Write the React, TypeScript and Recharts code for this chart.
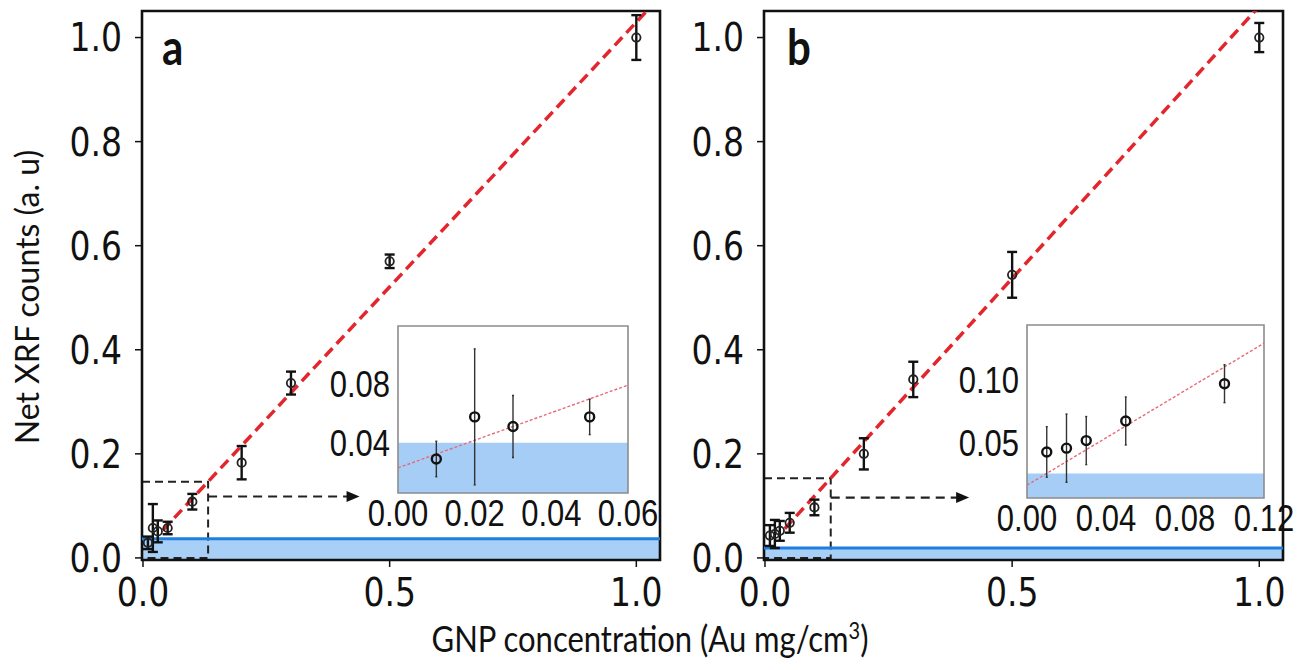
import React from 'react'
import {
  ScatterChart,
  Scatter,
  XAxis,
  YAxis,
  ErrorBar,
  ReferenceLine,
  ReferenceArea,
  ReferenceDot,
} from 'recharts'

// GNP concentration (Au mg/cm3), same for both panels
const concentrations = [0.01, 0.02, 0.03, 0.05, 0.1, 0.2, 0.3, 0.5, 1.0]

// panel a
const countsA = [0.029, 0.0575, 0.051, 0.0575, 0.108, 0.183, 0.336, 0.57, 1.0]
const errorsA = [0.012, 0.046, 0.021, 0.012, 0.015, 0.032, 0.022, 0.013, 0.043]
// panel b
const countsB = [0.043, 0.046, 0.052, 0.0675, 0.097, 0.2, 0.343, 0.544, 1.0]
const errorsB = [0.02, 0.027, 0.019, 0.019, 0.015, 0.03, 0.034, 0.044, 0.028]

// fitted lines (end points)
const fitMainA = [[0.04, 0.053], [1.03, 1.06]]
const fitMainB = [[0.04, 0.056], [1.0, 1.06]]
const fitInsetA = [[0, 0.023], [0.06, 0.079]]
const fitInsetB = [[0, 0.0167], [0.12, 0.129]]

// detection limit band
const lodMainA = 0.037
const lodInsetA = 0.04
const lodMainB = 0.019
const lodInsetB = 0.026

// zoom box corner and arrow (y, tip x)
const zoomBoxA = [0.132, 0.1466]
const zoomBoxB = [0.133, 0.153]
const arrowA = [0.118, 0.439]
const arrowB = [0.116, 0.413]

const mainXTicks = [0, 0.5, 1.0]
const mainYTicks = [0, 0.2, 0.4, 0.6, 0.8, 1.0]
const insetXTicksA = [0, 0.02, 0.04, 0.06]
const insetYTicksA = [0.04, 0.08]
const insetXTicksB = [0, 0.04, 0.08, 0.12]
const insetYTicksB = [0.05, 0.1]

const mainXDomain = [-0.002, 1.048]
const mainYDomain = [-0.004, 1.051]
const insetXDomainA = [0, 0.06]
const insetYDomainA = [0.006, 0.119]
const insetXDomainB = [0, 0.12]
const insetYDomainB = [0.0066, 0.1434]

const SY = 1.17 // figure is stretched vertically

const pointsA = concentrations.map((x, i) => ({ x, y: countsA[i], err: errorsA[i] }))
const pointsB = concentrations.map((x, i) => ({ x, y: countsB[i], err: errorsB[i] }))

const MainYTick = ({ x, y, payload }: any) => (
  <text transform={`translate(${x},${y}) scale(1,${SY})`} textAnchor="end" dy="0.36em"
    fontFamily="DejaVu Sans" fontSize={33} fill="#111">
    {Number(payload.value).toFixed(1)}
  </text>
)

const MainXTick = ({ x, y, payload }: any) => (
  <text transform={`translate(${x},${y}) scale(1,${SY})`} textAnchor="middle" dy="0.73em"
    fontFamily="DejaVu Sans" fontSize={33} fill="#111">
    {Number(payload.value).toFixed(1)}
  </text>
)

const InsetYTick = ({ x, y, payload }: any) => (
  <text transform={`translate(${x},${y}) scale(1,${SY})`} textAnchor="end" dy="0.36em"
    fontFamily="Liberation Sans" fontSize={31} fill="#111">
    {Number(payload.value).toFixed(2)}
  </text>
)

const InsetXTick = ({ x, y, payload }: any) => (
  <text transform={`translate(${x},${y}) scale(1,${SY})`} textAnchor="middle" dy="0.72em"
    fontFamily="Liberation Sans" fontSize={31} fill="#111">
    {Number(payload.value).toFixed(2)}
  </text>
)

const MainDot = (p: any) => (
  <circle cx={p.cx} cy={p.cy} r={4.2} fill="none" stroke="#222" strokeWidth={1.8} />
)

const InsetDot = (p: any) => (
  <circle cx={p.cx} cy={p.cy} r={4.5} fill="none" stroke="#111" strokeWidth={2.4} />
)

const ArrowHead = (p: any) => (
  <polygon points={`${p.cx},${p.cy} ${p.cx - 13},${p.cy - 5.5} ${p.cx - 13},${p.cy + 5.5}`} fill="#111" />
)

const MainPanel = ({ points, fit, lod, box, arrow, left, width, right }: any) => (
  <div style={{ position: 'absolute', left, top: 0 }}>
    <ScatterChart width={width} height={620} margin={{ top: 11, right, bottom: 0, left: 0 }}>
      <XAxis type="number" dataKey="x" domain={mainXDomain} ticks={mainXTicks} allowDataOverflow
        interval={0} height={60} tickSize={7} tickMargin={11} axisLine={false}
        tickLine={{ stroke: '#111', strokeWidth: 1.5 }} tick={<MainXTick />} />
      <YAxis type="number" dataKey="y" domain={mainYDomain} ticks={mainYTicks} allowDataOverflow
        interval={0} width={142} tickSize={7} tickMargin={13} axisLine={false}
        tickLine={{ stroke: '#111', strokeWidth: 1.5 }} tick={<MainYTick />} />
      <ReferenceArea x1={mainXDomain[0]} x2={mainXDomain[1]} y1={mainYDomain[0]} y2={lod}
        fill="#a8cff6" fillOpacity={1} stroke="none" ifOverflow="hidden" />
      <ReferenceLine y={lod} stroke="#1f7fe0" strokeWidth={3} />
      <ReferenceArea x1={mainXDomain[0]} x2={box[0]} y1={0} y2={box[1]} fill="none"
        stroke="#222" strokeWidth={2} strokeDasharray="8 5" ifOverflow="hidden" />
      <ReferenceLine segment={[{ x: box[0], y: arrow[0] }, { x: arrow[1] - 0.02, y: arrow[0] }]}
        stroke="#222" strokeWidth={2.2} strokeDasharray="9 6" />
      <ReferenceDot x={arrow[1]} y={arrow[0]} shape={<ArrowHead />} />
      <ReferenceLine segment={[{ x: fit[0][0], y: fit[0][1] }, { x: fit[1][0], y: fit[1][1] }]}
        stroke="#e3262e" strokeWidth={3.5} strokeDasharray="11 6" ifOverflow="hidden" />
      <Scatter data={points} shape={<MainDot />} isAnimationActive={false}>
        <ErrorBar dataKey="err" direction="y" width={5} strokeWidth={2.4} stroke="#111" />
      </Scatter>
      <ReferenceArea x1={mainXDomain[0]} x2={mainXDomain[1]} y1={mainYDomain[0]} y2={mainYDomain[1]}
        fill="none" stroke="#111" strokeWidth={2.6} ifOverflow="visible" />
    </ScatterChart>
  </div>
)

const InsetPanel = ({ points, fit, lod, xDomain, yDomain, xTicks, yTicks, left, top, width, height, xAxisHeight }: any) => (
  <div style={{ position: 'absolute', left, top }}>
    <ScatterChart width={width} height={height} margin={{ top: 10, right: 50, bottom: 0, left: 0 }}>
      <XAxis type="number" dataKey="x" domain={xDomain} ticks={xTicks} allowDataOverflow
        interval={0} height={xAxisHeight} tickSize={0} tickMargin={7} axisLine={false}
        tickLine={false} tick={<InsetXTick />} />
      <YAxis type="number" dataKey="y" domain={yDomain} ticks={yTicks} allowDataOverflow
        interval={0} width={80} tickSize={0} tickMargin={8} axisLine={false}
        tickLine={false} tick={<InsetYTick />} />
      <ReferenceArea x1={xDomain[0]} x2={xDomain[1]} y1={yDomain[0]} y2={yDomain[1]}
        fill="#ffffff" fillOpacity={1} stroke="none" />
      <ReferenceArea x1={xDomain[0]} x2={xDomain[1]} y1={yDomain[0]} y2={lod}
        fill="#a6cdf6" fillOpacity={1} stroke="none" />
      <ReferenceLine segment={[{ x: fit[0][0], y: fit[0][1] }, { x: fit[1][0], y: fit[1][1] }]}
        stroke="#e86a78" strokeWidth={1.4} strokeDasharray="3 2" ifOverflow="hidden" />
      <Scatter data={points.filter((p: any) => p.x <= xDomain[1])} shape={<InsetDot />} isAnimationActive={false}>
        <ErrorBar dataKey="err" direction="y" width={1} strokeWidth={1.4} stroke="#333" />
      </Scatter>
      <ReferenceArea x1={xDomain[0]} x2={xDomain[1]} y1={yDomain[0]} y2={yDomain[1]}
        fill="none" stroke="#8c8c8c" strokeWidth={1.6} ifOverflow="visible" />
    </ScatterChart>
  </div>
)

export default function App() {
  return (
    <div style={{ position: 'absolute', left: 0, top: 0, width: 1303, height: 670, background: '#fff', overflow: 'hidden' }}>
      <MainPanel points={pointsA} fit={fitMainA} lod={lodMainA} box={zoomBoxA} arrow={arrowA}
        left={0} width={670} right={10} />
      <MainPanel points={pointsB} fit={fitMainB} lod={lodMainB} box={zoomBoxB} arrow={arrowB}
        left={622} width={670} right={9} />
      <InsetPanel points={pointsA} fit={fitInsetA} lod={lodInsetA} xDomain={insetXDomainA} yDomain={insetYDomainA}
        xTicks={insetXTicksA} yTicks={insetYTicksA} left={318} top={316} width={360} height={250} xAxisHeight={73} />
      <InsetPanel points={pointsB} fit={fitInsetB} lod={lodInsetB} xDomain={insetXDomainB} yDomain={insetYDomainB}
        xTicks={insetXTicksB} yTicks={insetYTicksB} left={947} top={315} width={367} height={250} xAxisHeight={67} />
      <svg width={1303} height={670} style={{ position: 'absolute', left: 0, top: 0, pointerEvents: 'none' }}>
        <text transform={`translate(162,65) scale(1,${SY})`} fontFamily="Lato" fontWeight={700} fontSize={42} fill="#111">a</text>
        <text transform={`translate(787,65) scale(1,${SY})`} fontFamily="Lato" fontWeight={700} fontSize={42} fill="#111">b</text>
        <text transform="translate(39,297) rotate(-90)" textAnchor="middle" fontFamily="Lato" fontSize={32} fill="#111">
          Net XRF counts (a. u)
        </text>
        <text transform={`translate(650,652) scale(1,${SY})`} textAnchor="middle" fontFamily="Lato" fontSize={31} fill="#111">
          GNP concentration (Au mg/cm<tspan dy="-11" fontSize={20}>3</tspan><tspan dy="11">)</tspan>
        </text>
      </svg>
    </div>
  )
}
